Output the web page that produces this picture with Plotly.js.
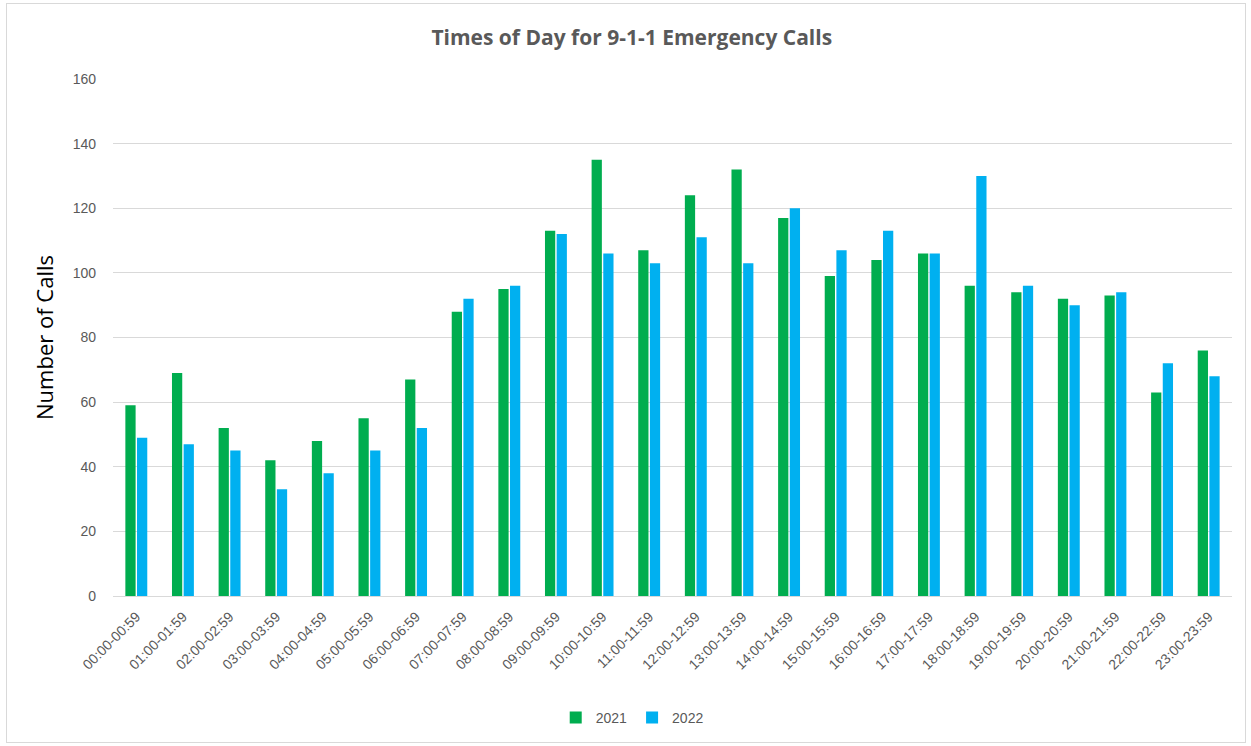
<!DOCTYPE html>
<html>
<head>
<meta charset="utf-8">
<script src="https://cdn.plot.ly/plotly-3.0.1.min.js"></script>
<style>
  body { margin: 0; background: #fff; }
  #plot { width: 1251px; height: 746px; }
  #frame { position: absolute; left: 6px; top: 3px; width: 1238px; height: 738px; border: 1px solid #d9d9d9; pointer-events: none; }
</style>
</head>
<body>
<div id="plot"></div>
<div id="frame"></div>
<script>
var hours = ['00:00-00:59', '01:00-01:59', '02:00-02:59', '03:00-03:59', '04:00-04:59', '05:00-05:59',
  '06:00-06:59', '07:00-07:59', '08:00-08:59', '09:00-09:59', '10:00-10:59', '11:00-11:59',
  '12:00-12:59', '13:00-13:59', '14:00-14:59', '15:00-15:59', '16:00-16:59', '17:00-17:59',
  '18:00-18:59', '19:00-19:59', '20:00-20:59', '21:00-21:59', '22:00-22:59', '23:00-23:59'];

var calls2021 = [59, 69, 52, 42, 48, 55, 67, 88, 95, 113, 135, 107, 124, 132, 117, 99, 104, 106, 96, 94, 92, 93, 63, 76];
var calls2022 = [49, 47, 45, 33, 38, 45, 52, 92, 96, 112, 106, 103, 111, 103, 120, 107, 113, 106, 130, 96, 90, 94, 72, 68];

var trace1 = {
  x: hours,
  y: calls2021,
  name: '2021',
  type: 'bar',
  marker: {color: '#00ad4f'}
};

var trace2 = {
  x: hours,
  y: calls2022,
  name: '2022',
  type: 'bar',
  marker: {color: '#00b0f0'}
};

var data = [trace1, trace2];

var layout = {
  barmode: 'group',
  bargap: 0.5,
  bargroupgap: 0.12,
  margin: {l: 113, r: 19, t: 79, b: 150},
  paper_bgcolor: '#fff',
  plot_bgcolor: '#fff',
  font: {family: 'Liberation Sans, Arial, sans-serif', color: '#595959', size: 14},
  title: {
    text: '<b>Times of Day for 9-1-1 Emergency Calls</b>',
    font: {size: 21, color: '#595959', family: 'Open Sans, sans-serif'},
    x: 0.505, xanchor: 'center', y: 0.95, yanchor: 'middle'
  },
  xaxis: {
    tickangle: -45,
    tickfont: {size: 14, color: '#595959'},
    ticklabelstandoff: 6,
    showline: true, linecolor: '#d9d9d9', linewidth: 1,
    ticks: '', fixedrange: true
  },
  yaxis: {
    title: {text: 'Number of Calls', font: {size: 22, color: '#000', family: 'Open Sans, sans-serif'}, standoff: 12},
    range: [0, 160],
    dtick: 20,
    tickfont: {size: 14, color: '#595959'},
    ticklabelstandoff: 16,
    gridcolor: '#d9d9d9',
    zeroline: false,
    ticks: '',
    fixedrange: true
  },
  showlegend: true,
  legend: {
    orientation: 'h',
    x: 0.464, xanchor: 'center',
    y: -0.236, yanchor: 'middle',
    font: {size: 14, color: '#595959'},
    itemwidth: 30
  }
};

Plotly.newPlot('plot', data, layout, {displayModeBar: false});
</script>
</body>
</html>
